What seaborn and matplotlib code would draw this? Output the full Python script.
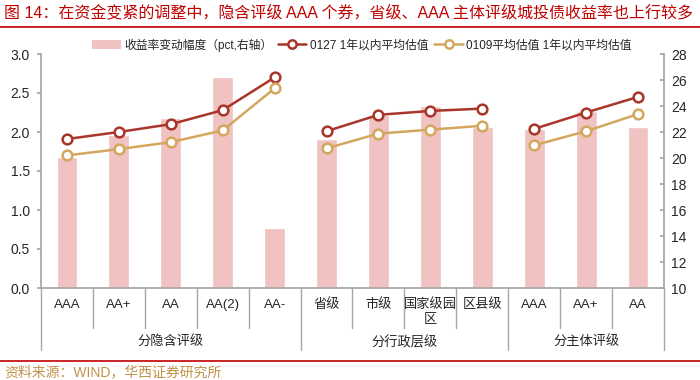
import numpy as np
import pandas as pd
import matplotlib
matplotlib.use('Agg')
import matplotlib.pyplot as plt
import matplotlib.transforms as mtransforms
from matplotlib.lines import Line2D
from matplotlib.patches import Patch
import seaborn as sns

# categories and groups
cats = ['AAA', 'AA+', 'AA', 'AA(2)', 'AA-', '省级', '市级', '国家级园\n区', '区县级', 'AAA', 'AA+', 'AA']
groups = ['分隐含评级', '分行政层级', '分主体评级']
group_sizes = [5, 4, 3]

# bars: yield change (right axis)
change = [20.1, 21.8, 23.1, 26.2, 14.6, 21.5, 23.3, 24.0, 22.4, 22.2, 23.6, 22.4]
# lines: average valuation (left axis)
val_0127 = [1.91, 2.00, 2.10, 2.28, 2.70, 2.01, 2.22, 2.27, 2.30, 2.04, 2.25, 2.45]
val_0109 = [1.70, 1.78, 1.87, 2.02, 2.56, 1.79, 1.98, 2.03, 2.08, 1.83, 2.01, 2.23]

bar_label = '收益率变动幅度（pct,右轴）'
l1_label = '0127 1年以内平均估值'
l2_label = '0109平均估值 1年以内平均估值'

c_bar = '#F0C2C2'
c_l1 = '#A8362A'
c_l2 = '#D4A75E'
c_red = '#C00000'
c_grid = '#A6A6A6'

sns.set_theme(style='white')
plt.rcParams['font.family'] = ['Liberation Sans', 'Noto Sans CJK SC']
plt.rcParams['axes.unicode_minus'] = False

fig = plt.figure(figsize=(7, 3.8), dpi=100)
ax = fig.add_axes([41 / 700, 1 - 288 / 380, 623 / 700, 234 / 380])
ax2 = ax.twinx()

pos = np.arange(len(cats))
df = pd.DataFrame({'pos': pos, 'change': change, 'v1': val_0127, 'v2': val_0109})

sns.barplot(data=df, x='pos', y='change', ax=ax2, color=c_bar, width=0.4,
            saturation=1, order=list(pos))
ax2.set_ylim(10, 28)
ax2.set_yticks(np.arange(10, 29, 2))

start = 0
for n in group_sizes:
    sub = df.iloc[start:start + n]
    sns.lineplot(data=sub, x='pos', y='v1', ax=ax, color=c_l1, lw=1.8, marker='o',
                 markersize=7, markerfacecolor='white', markeredgecolor=c_l1,
                 markeredgewidth=1.8)
    sns.lineplot(data=sub, x='pos', y='v2', ax=ax, color=c_l2, lw=1.8, marker='o',
                 markersize=7, markerfacecolor='white', markeredgecolor=c_l2,
                 markeredgewidth=1.8)
    start += n

ax.set_ylim(0, 3.0)
ax.set_yticks(np.arange(0, 3.01, 0.5))
ax.set_yticklabels([f'{v:.1f}' for v in np.arange(0, 3.01, 0.5)])
ax.set_xlim(-0.5, len(cats) - 0.5)
ax.set_zorder(ax2.get_zorder() + 1)
ax.patch.set_visible(False)

for a in (ax, ax2):
    a.set_xlabel('')
    a.set_ylabel('')
    a.set_xticks([])
    a.grid(False)
    for s in a.spines.values():
        s.set_visible(False)
ax.spines['left'].set_visible(True)
ax.spines['left'].set_color(c_grid)
ax.spines['bottom'].set_visible(True)
ax.spines['bottom'].set_color(c_grid)
ax2.spines['right'].set_visible(True)
ax2.spines['right'].set_color(c_grid)
ax.tick_params(axis='y', left=True, length=3, color=c_grid, labelsize=10, pad=5)
ax2.tick_params(axis='y', right=True, direction='in', length=3, color=c_grid,
                labelsize=10, pad=5)

# category labels and separators
tr = mtransforms.blended_transform_factory(ax.transData, ax.transAxes)
for i, c in enumerate(cats):
    ax.text(i, -0.045, c, transform=tr, ha='center', va='top', fontsize=9.5,
            linespacing=1.3)
bounds = np.cumsum([0] + group_sizes)
for i in range(len(cats) + 1):
    depth = -0.265 if i in bounds else -0.17
    ax.plot([i - 0.5, i - 0.5], [0, depth], transform=tr, color=c_grid, lw=1,
            clip_on=False)
for g, a0, a1 in zip(groups, bounds[:-1], bounds[1:]):
    ax.text((a0 + a1 - 1) / 2, -0.232, g, transform=tr, ha='center', va='center',
            fontsize=9.5)

# legend
handles = [Patch(facecolor=c_bar, edgecolor='none'),
           Line2D([], [], color=c_l1, lw=1.8, marker='o', markersize=6,
                  markerfacecolor='white', markeredgewidth=1.8),
           Line2D([], [], color=c_l2, lw=1.8, marker='o', markersize=6,
                  markerfacecolor='white', markeredgewidth=1.8)]
fig.legend(handles, [bar_label, l1_label, l2_label], loc='center',
           bbox_to_anchor=(362 / 700, 1 - 45 / 380), ncol=3, frameon=False,
           fontsize=8.5, handlelength=2.4, handletextpad=0.3, columnspacing=0.5)

# title, rules and source
fig.text(4 / 700, 1 - 12 / 380, '图 14：在资金变紧的调整中，隐含评级 AAA 个券，省级、AAA 主体评级城投债收益率也上行较多',
         color=c_red, fontsize=11.5, va='center', ha='left')
fig.add_artist(Line2D([0, 1], [1 - 27 / 380] * 2, color=c_red, lw=1.2))
fig.add_artist(Line2D([0, 1], [1 - 361 / 380] * 2, color=c_red, lw=1.2))
fig.text(4 / 700, 1 - 372 / 380, '资料来源：WIND，华西证券研究所', color='#C0924A',
         fontsize=10, va='center', ha='left')

fig.savefig('out.png', dpi=100)
